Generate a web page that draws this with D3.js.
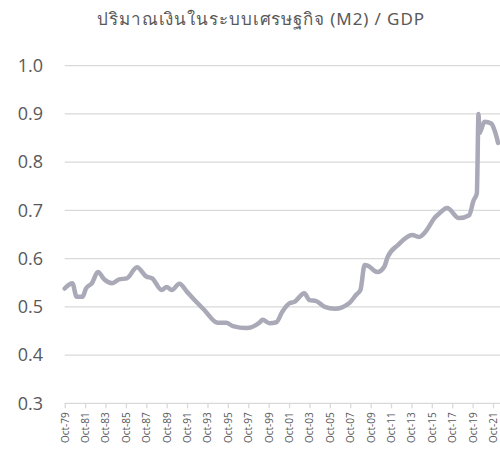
<!DOCTYPE html>
<html>
<head>
<meta charset="utf-8">
<script src="https://cdn.jsdelivr.net/npm/d3@7"></script>
<style>
  body { margin: 0; background: #fff; }
  svg { display: block; }
</style>
</head>
<body>
<div class="vis-line"></div>
<script>
// values, month of reading -> M2/GDP ratio
const dates = ["1979-10","1980-07","1980-12","1981-07","1981-11","1982-06","1983-01","1983-09",
  "1984-06","1985-02","1985-11","1986-11","1987-10","1988-05","1989-04","1989-10","1990-04",
  "1991-01","1991-10","1992-09","1993-06","1994-10","1995-08","1996-04","1997-08","1998-11",
  "1999-03","1999-11","2000-07","2001-02","2001-11","2002-04","2003-04","2003-10","2004-06",
  "2005-04","2006-04","2007-09","2008-05","2008-10","2009-03","2009-07","2010-06","2011-02",
  "2011-06","2012-06","2013-11","2014-07","2015-04","2016-01","2016-07","2017-04","2018-06",
  "2019-06","2019-11","2020-03","2020-05","2020-06","2020-12","2021-08","2021-12","2022-04"];
const ratio = [0.538,0.549,0.521,0.521,0.538,0.549,0.572,0.556,
  0.549,0.557,0.559,0.582,0.563,0.559,0.535,0.541,0.535,
  0.548,0.531,0.510,0.494,0.467,0.467,0.460,0.456,0.467,
  0.473,0.466,0.468,0.490,0.508,0.510,0.528,0.514,0.512,
  0.500,0.496,0.508,0.525,0.535,0.587,0.585,0.572,0.583,
  0.603,0.628,0.649,0.645,0.659,0.684,0.694,0.705,0.684,
  0.690,0.720,0.735,0.900,0.860,0.884,0.880,0.865,0.840];
const tickLabels = ["Oct-79","Oct-81","Oct-83","Oct-85","Oct-87","Oct-89","Oct-91","Oct-93",
  "Oct-95","Oct-97","Oct-99","Oct-01","Oct-03","Oct-05","Oct-07","Oct-09","Oct-11","Oct-13",
  "Oct-15","Oct-17","Oct-19","Oct-21"];
const yTicks = [0.3, 0.4, 0.5, 0.6, 0.7, 0.8, 0.9, 1.0];
const title = "ปริมาณเงินในระบบเศรษฐกิจ (M2) / GDP";

const W = 500, H = 453;
const parse = d3.timeParse("%Y-%m");
const tickParse = d3.timeParse("%b-%y");
const data = dates.map((d, i) => ({date: parse(d), v: ratio[i]}));

const svg = d3.select('.vis-line').append('svg')
  .attr('width', W).attr('height', H);

const x = d3.scaleTime()
  .domain([tickParse(tickLabels[0]), tickParse(tickLabels[tickLabels.length - 1])])
  .range([64.7, 493]);
const y = d3.scaleLinear().domain([0.3, 1.0]).range([403.3, 65.7]);

// title
svg.append("text")
  .attr("x", 261).attr("y", 25)
  .attr("text-anchor", "middle")
  .style("font-family", "'Noto Sans', 'DejaVu Sans', sans-serif")
  .style("font-size", "17px")
  .style("letter-spacing", "0.9px")
  .style("fill", "#595959")
  .text(title);

// gridlines
svg.append("g").selectAll("line")
  .data(yTicks)
  .enter().append("line")
    .attr("x1", 64.7).attr("x2", W)
    .attr("y1", d => y(d)).attr("y2", d => y(d))
    .style("stroke", "#d9d9d9").style("stroke-width", 1.3);

// y axis labels
const yAxis = svg.append("g")
  .attr("transform", "translate(43,0)")
  .call(d3.axisLeft(y).tickValues(yTicks).tickFormat(d3.format(".1f")).tickSize(0).tickPadding(0));
yAxis.select(".domain").remove();
yAxis.selectAll("text")
  .style("font-family", "'Open Sans', 'Noto Sans', sans-serif")
  .style("font-size", "18px")
  .style("fill", "#595959");

// x axis
const xAxis = svg.append("g")
  .attr("transform", "translate(0," + y(0.3) + ")")
  .call(d3.axisBottom(x).tickValues(tickLabels.map(tickParse)).tickFormat((d, i) => tickLabels[i]).tickSize(5).tickPadding(9));
xAxis.select(".domain").remove();
xAxis.selectAll("line").style("stroke", "#d9d9d9").style("stroke-width", 1.3);
xAxis.selectAll("text")
  .attr("transform", "rotate(-90)")
  .attr("x", -9).attr("y", 0).attr("dy", "0.35em")
  .style("text-anchor", "end")
  .style("font-family", "'Open Sans', 'Noto Sans', sans-serif")
  .style("font-size", "10px")
  .style("fill", "#595959");

// the line
const line = d3.line()
  .x(d => x(d.date))
  .y(d => y(d.v))
  .curve(d3.curveMonotoneX);

svg.append("path")
  .datum(data)
  .attr("d", line)
  .style("fill", "none")
  .style("stroke", "#a9a9b7")
  .style("stroke-width", 4.5)
  .style("stroke-linejoin", "round")
  .style("stroke-linecap", "round");
</script>
</body>
</html>
